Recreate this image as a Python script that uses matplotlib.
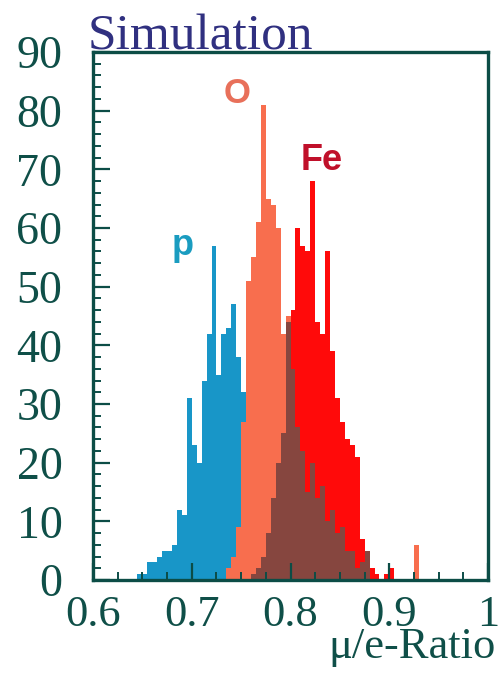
import numpy as np
import matplotlib.pyplot as plt
from matplotlib.ticker import MultipleLocator

# binning of the mu/e ratio: 80 bins from 0.6 to 1.0
edges = np.linspace(0.6, 1.0, 81)

# entries per bin, proton showers
counts_p = [0, 0, 0, 0, 0, 0, 0, 0, 0, 1,
            1, 3, 3, 4, 5, 5, 6, 12, 11, 31,
            23, 20, 34, 42, 57, 35, 42, 43, 47, 38,
            32, 20, 10, 5, 2, 1, 0, 0, 0, 0,
            0, 0, 0, 0, 0, 0, 0, 0, 0, 0,
            0, 0, 0, 0, 0, 0, 0, 0, 0, 0,
            0, 0, 0, 0, 0, 0, 0, 0, 0, 0,
            0, 0, 0, 0, 0, 0, 0, 0, 0, 0]

# oxygen showers
counts_O = [0, 0, 0, 0, 0, 0, 0, 0, 0, 0,
            0, 0, 0, 0, 0, 0, 0, 0, 0, 0,
            0, 0, 0, 0, 0, 0, 0, 2, 4, 9,
            27, 51, 55, 61, 81, 65, 64, 60, 42, 45,
            36, 26, 22, 15, 20, 14, 16, 10, 12, 8,
            9, 5, 5, 2, 3, 5, 0, 0, 0, 0,
            0, 0, 0, 0, 0, 6, 0, 0, 0, 0,
            0, 0, 0, 0, 0, 0, 0, 0, 0, 0]

# iron showers
counts_Fe = [0, 0, 0, 0, 0, 0, 0, 0, 0, 0,
             0, 0, 0, 0, 0, 0, 0, 0, 0, 0,
             0, 0, 0, 0, 0, 0, 0, 0, 0, 0,
             0, 0, 1, 2, 4, 8, 14, 20, 25, 44,
             46, 60, 57, 56, 68, 44, 42, 56, 39, 31,
             27, 24, 23, 21, 7, 5, 2, 1, 0, 1,
             2, 0, 0, 0, 0, 0, 0, 0, 0, 0,
             0, 0, 0, 0, 0, 0, 0, 0, 0, 0]

col_p = '#1896c8'
col_O = '#f86e4e'
col_Fe = '#ff0a0a'
col_both = '#86463f'
col_axis = '#0c4d46'

fig = plt.figure(figsize=(5.04, 6.78), dpi=100)
ax = fig.add_axes([0.1845, 0.1445, 0.784, 0.7788])

ax.stairs(counts_p, edges, fill=True, color=col_p)
ax.stairs(counts_O, edges, fill=True, color=col_O)
ax.stairs(counts_Fe, edges, fill=True, color=col_Fe)
# where O and Fe overlap
ax.stairs(np.minimum(counts_O, counts_Fe), edges, fill=True, color=col_both)

ax.set_xlim(0.6, 1.0)
ax.set_ylim(0, 90)

ax.xaxis.set_major_locator(MultipleLocator(0.1))
ax.xaxis.set_minor_locator(MultipleLocator(0.025))
ax.yaxis.set_major_locator(MultipleLocator(10))
ax.yaxis.set_minor_locator(MultipleLocator(2))
ax.set_xticks([0.6, 0.7, 0.8, 0.9, 1.0], ['0.6', '0.7', '0.8', '0.9', '1'])

serif = 'Liberation Serif'
ax.tick_params(axis='both', which='both', direction='in', color=col_axis,
               labelcolor='#0f4f48', top=False, right=False)
ax.tick_params(axis='both', which='major', length=12, width=1.6)
ax.tick_params(axis='both', which='minor', length=6, width=1.4)
ax.tick_params(axis='y', which='major', pad=22, labelsize=33)
ax.tick_params(axis='x', which='major', pad=11, labelsize=32)
for lab in ax.get_xticklabels() + ax.get_yticklabels():
    lab.set_fontfamily(serif)

for sp in ax.spines.values():
    sp.set_color(col_axis)
    sp.set_linewidth(2.4)

# species labels
lab_font = dict(family='Liberation Sans', fontweight='bold', ha='center', va='center')
ax.text(0.691, 57, 'p', color='#1a9cc0', fontsize=26, **lab_font)
ax.text(0.746, 83.0, 'O', color='#e8705a', fontsize=25, **lab_font)
ax.text(0.832, 71.5, 'Fe', color='#c0102a', fontsize=26, **lab_font)

fig.text(88 / 504, 1 - 50 / 678, 'Simulation', family=serif, fontsize=37,
         color='#303080', ha='left', va='baseline')
fig.text(496 / 504, 1 - 658 / 678, 'μ/e-Ratio', family=serif, fontsize=32,
         color='#0f4f48', ha='right', va='baseline')

fig.savefig('out.png', dpi=100)
